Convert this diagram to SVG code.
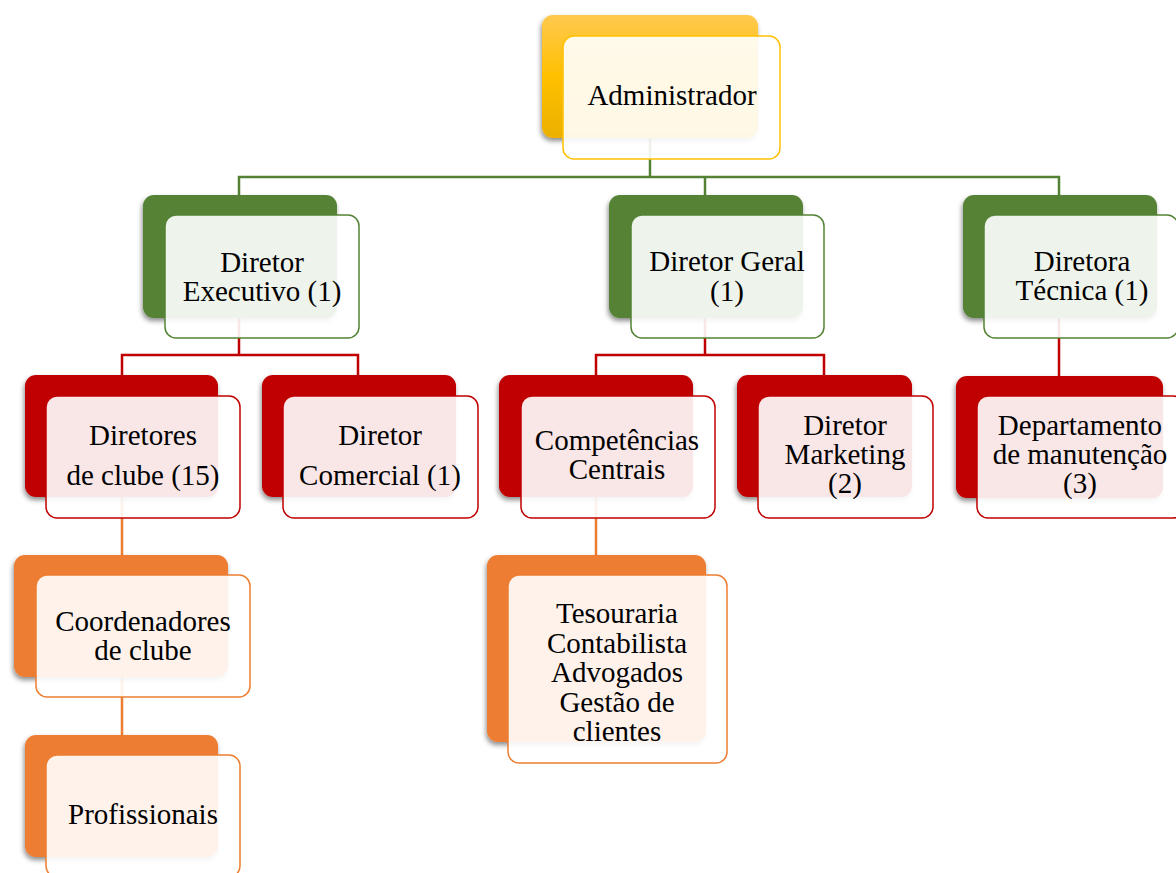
<svg xmlns="http://www.w3.org/2000/svg" width="1176" height="873" viewBox="0 0 1176 873">
<defs>
<linearGradient id="gold" x1="0" y1="0" x2="0" y2="1">
<stop offset="0" stop-color="#ffc94f"/>
<stop offset="0.5" stop-color="#ffc000"/>
<stop offset="1" stop-color="#ebb000"/>
</linearGradient>
<filter id="sh" x="-20%" y="-20%" width="140%" height="150%">
<feDropShadow dx="-1" dy="3" stdDeviation="2.5" flood-color="#000" flood-opacity="0.45"/>
</filter>
</defs>
<style>
.back{filter:url(#sh)}
.front{fill:#fff;fill-opacity:0.9;stroke-width:1.5}
.g .back{fill:#548235}.g .front{stroke:#548235}
.r .back{fill:#c00000}.r .front{stroke:#c00000}
.o .back{fill:#ed7d31}.o .front{stroke:#ed7d31}
.y .back{fill:url(#gold)}.y .front{stroke:#ffc000}
text{font-family:"Liberation Serif","Times New Roman",serif;font-size:29px;fill:#000;text-anchor:middle}
.conn line,.conn polyline{fill:none;stroke-width:2.5}
</style>
<rect width="1176" height="873" fill="#fff"/>
<g id="connectors" class="conn">
<polyline points="650,120 650,177" stroke="#548235"/>
<polyline points="239,200 239,177 1059,177 1059,200" stroke="#548235"/>
<line x1="705" y1="177" x2="705" y2="200" stroke="#548235"/>
<polyline points="239,300 239,355" stroke="#c00000"/>
<polyline points="122,380 122,355 358,355 358,380" stroke="#c00000"/>
<polyline points="705,300 705,355" stroke="#c00000"/>
<polyline points="596,380 596,355 824,355 824,380" stroke="#c00000"/>
<line x1="1059" y1="300" x2="1059" y2="380" stroke="#c00000"/>
<line x1="122" y1="480" x2="122" y2="560" stroke="#ed7d31"/>
<line x1="122" y1="660" x2="122" y2="740" stroke="#ed7d31"/>
<line x1="596" y1="480" x2="596" y2="560" stroke="#ed7d31"/>
</g>
<g id="n-admin" class="y">
<rect class="back" x="542" y="15" width="216" height="123" rx="11"/>
<rect class="front" x="563" y="36" width="217" height="123" rx="11"/>
<text x="672" y="105">Administrador</text>
</g>
<g id="n-exec" class="g">
<rect class="back" x="143" y="195" width="194" height="123" rx="11"/>
<rect class="front" x="165" y="215" width="194" height="123" rx="11"/>
<text x="262" y="272">Diretor</text>
<text x="262" y="301">Executivo (1)</text>
</g>
<g id="n-geral" class="g">
<rect class="back" x="609" y="195" width="194" height="123" rx="11"/>
<rect class="front" x="631" y="215" width="193" height="123" rx="11"/>
<text x="727" y="271">Diretor Geral</text>
<text x="727" y="301">(1)</text>
</g>
<g id="n-tecnica" class="g">
<rect class="back" x="963" y="195" width="194" height="123" rx="11"/>
<rect class="front" x="984" y="215" width="194" height="123" rx="11"/>
<text x="1082" y="271">Diretora</text>
<text x="1082" y="300">Técnica (1)</text>
</g>
<g id="n-diretores" class="r">
<rect class="back" x="25" y="375" width="193" height="122" rx="11"/>
<rect class="front" x="46" y="396" width="194" height="122" rx="11"/>
<text x="143" y="445">Diretores</text>
<text x="143" y="485">de clube (15)</text>
</g>
<g id="n-comercial" class="r">
<rect class="back" x="262" y="375" width="194" height="122" rx="11"/>
<rect class="front" x="283" y="396" width="195" height="122" rx="11"/>
<text x="380" y="445">Diretor</text>
<text x="380" y="485">Comercial (1)</text>
</g>
<g id="n-competencias" class="r">
<rect class="back" x="499" y="375" width="194" height="122" rx="11"/>
<rect class="front" x="521" y="396" width="194" height="122" rx="11"/>
<text x="617" y="450">Competências</text>
<text x="617" y="479">Centrais</text>
</g>
<g id="n-marketing" class="r">
<rect class="back" x="737" y="375" width="175" height="122" rx="11"/>
<rect class="front" x="758" y="396" width="175" height="122" rx="11"/>
<text x="845" y="435">Diretor</text>
<text x="845" y="464">Marketing</text>
<text x="845" y="493">(2)</text>
</g>
<g id="n-manutencao" class="r">
<rect class="back" x="956" y="376" width="207" height="122" rx="11"/>
<rect class="front" x="977" y="396" width="207" height="122" rx="11"/>
<text x="1080" y="435">Departamento</text>
<text x="1080" y="464">de manutenção</text>
<text x="1080" y="493">(3)</text>
</g>
<g id="n-coordenadores" class="o">
<rect class="back" x="14" y="555" width="214" height="122" rx="11"/>
<rect class="front" x="36" y="575" width="214" height="122" rx="11"/>
<text x="143" y="631">Coordenadores</text>
<text x="143" y="660">de clube</text>
</g>
<g id="n-profissionais" class="o">
<rect class="back" x="25" y="735" width="193" height="122" rx="11"/>
<rect class="front" x="46" y="755" width="194" height="122" rx="11"/>
<text x="143" y="824">Profissionais</text>
</g>
<g id="n-tesouraria" class="o">
<rect class="back" x="487" y="555" width="219" height="187" rx="11"/>
<rect class="front" x="508" y="575" width="219" height="188" rx="11"/>
<text x="617" y="623">Tesouraria</text>
<text x="617" y="653">Contabilista</text>
<text x="617" y="682">Advogados</text>
<text x="617" y="712">Gestão de</text>
<text x="617" y="741">clientes</text>
</g>
</svg>
